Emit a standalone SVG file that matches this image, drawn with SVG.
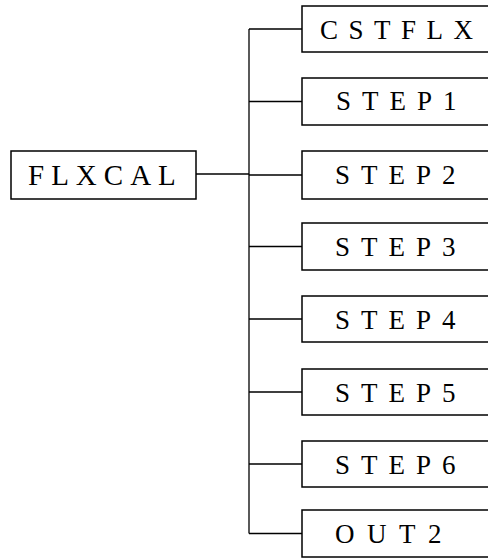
<svg xmlns="http://www.w3.org/2000/svg" width="488" height="559" viewBox="0 0 488 559">
<style>
rect{fill:#fff;stroke:#000;stroke-width:1.5}
text{font-family:"Liberation Serif","Times New Roman",serif;font-size:27px;fill:#000;letter-spacing:11px}
.c{fill:none;stroke:#000;stroke-width:1.3}
</style>
<rect x="0" y="0" width="488" height="559" fill="#fff" style="stroke:none"/>
<g id="connectors" class="c">
<path d="M196 174H249"/>
<path d="M249 29V533.5"/>
<path d="M249 29H302M249 101.5H302M249 175H302M249 246.5H302M249 319H302M249 392H302M249 464H302M249 533.5H302"/>
</g>
<g id="FLXCAL"><rect x="11" y="151" width="185" height="48"/><text x="28" y="185" style="font-size:29px;letter-spacing:7px">FLXCAL</text></g>
<g id="CSTFLX"><rect x="302" y="6" width="195" height="46"/><text x="320" y="39" style="letter-spacing:10.5px">CSTFLX</text></g>
<g id="STEP1"><rect x="302" y="78" width="195" height="47"/><text x="336" y="110">STEP1</text></g>
<g id="STEP2"><rect x="302" y="151" width="195" height="48"/><text x="335" y="184">STEP2</text></g>
<g id="STEP3"><rect x="302" y="223" width="195" height="47"/><text x="335" y="256">STEP3</text></g>
<g id="STEP4"><rect x="302" y="296" width="195" height="46"/><text x="335" y="329">STEP4</text></g>
<g id="STEP5"><rect x="302" y="369" width="195" height="46"/><text x="335" y="402">STEP5</text></g>
<g id="STEP6"><rect x="302" y="441" width="195" height="46"/><text x="335" y="474">STEP6</text></g>
<g id="OUT2"><rect x="302" y="510" width="195" height="47"/><text x="335" y="543" style="letter-spacing:12.5px">OUT2</text></g>
</svg>
